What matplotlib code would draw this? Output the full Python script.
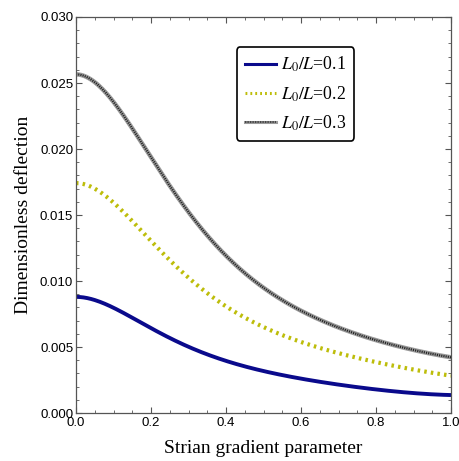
import numpy as np
import matplotlib.pyplot as plt
from matplotlib.ticker import MultipleLocator
from matplotlib.lines import Line2D

plt.rcParams['mathtext.fontset'] = 'stix'

# valores
x_azul = [0.0, 0.073, 0.118, 0.198, 0.251, 0.34, 0.43, 0.519, 0.599, 0.706, 0.813, 1.0]
y_azul = [0.00869, 0.00831, 0.0078, 0.00654, 0.00566, 0.00452, 0.00364, 0.00308,
          0.00263, 0.00212, 0.00174, 0.00136]

x_amar = [0.0, 0.073, 0.118, 0.189, 0.251, 0.34, 0.43, 0.514, 0.599, 0.706, 0.813, 1.0]
y_amar = [0.01727, 0.01664, 0.01563, 0.01323, 0.0116, 0.00932, 0.00755, 0.00629,
          0.0054, 0.00452, 0.00376, 0.00283]

x_gris = [0.0, 0.055, 0.109, 0.162, 0.216, 0.278, 0.349, 0.43, 0.514, 0.599, 0.706, 0.813, 1.0]
y_gris = [0.0254, 0.02497, 0.02346, 0.02093, 0.01892, 0.01614, 0.01317, 0.01121,
          0.00919, 0.0078, 0.00641, 0.0054, 0.00422]

etiquetas = [r'$L_0/L$=0.1', r'$L_0/L$=0.2', r'$L_0/L$=0.3']


def suavizar(xs, ys, n=300):
    # ajuste suave en log(y), pendiente nula en x=0
    x = np.array(xs, float)
    y = np.log(np.array(ys, float))
    base = lambda v: np.column_stack([np.ones_like(v), v**2, v**3, v**4, v**5])
    c, *_ = np.linalg.lstsq(base(x), y, rcond=None)
    xx = np.linspace(0, 1, n)
    return xx, np.exp(base(xx) @ c)


fig = plt.figure(figsize=(4.59, 4.61), dpi=100)
ax = fig.add_axes([76/459, 48/461, 375/459, 396/461])

xa, ya = suavizar(x_azul, y_azul)
xm, ym = suavizar(x_amar, y_amar)
xg, yg = suavizar(x_gris, y_gris)

ax.plot(xa, ya, color='#0a0a8c', lw=2.8, solid_capstyle='butt')
ax.plot(xm, ym, color='#bdbd0a', lw=3, linestyle=(0, (0.6, 1.0)))
ax.plot(xg, yg, color='#9a9a9a', lw=3.2)
ax.plot(xg, yg, color='#222222', lw=1.6, linestyle=(0, (0.5, 0.5)))

ax.set_xlim(0, 1)
ax.set_ylim(0, 0.03)
ax.xaxis.set_major_locator(MultipleLocator(0.2))
ax.xaxis.set_minor_locator(MultipleLocator(0.05))
ax.yaxis.set_major_locator(MultipleLocator(0.005))
ax.yaxis.set_minor_locator(MultipleLocator(0.001))
ax.xaxis.set_major_formatter(plt.FuncFormatter(lambda v, p: f"{v:.1f}"))
ax.yaxis.set_major_formatter(plt.FuncFormatter(lambda v, p: f"{v:.3f}"))

ax.tick_params(which='both', direction='in', top=True, right=True, color='#555555',
               labelsize=9.5)
ax.tick_params(axis='y', pad=2)
ax.tick_params(axis='x', pad=3)
ax.tick_params(which='major', length=4)
ax.tick_params(which='minor', length=2.5)
for lab in ax.get_xticklabels() + ax.get_yticklabels():
    lab.set_family('Liberation Sans')
for s in ax.spines.values():
    s.set_color('#555555')
    s.set_linewidth(0.9)

ax.set_xlabel("Strian gradient parameter", family='Liberation Serif', fontsize=14, labelpad=8)
ax.set_ylabel("Dimensionless deflection", family='Liberation Serif', fontsize=14, labelpad=6)

h1 = Line2D([], [], color='#0a0a8c', lw=2.2)
h2 = Line2D([], [], color='#bdbd0a', lw=2.2, linestyle=(0, (0.6, 1.0)))
h3a = Line2D([], [], color='#9a9a9a', lw=2.2)
h3b = Line2D([], [], color='#222222', lw=1.2, linestyle=(0, (0.5, 0.5)))
leg = ax.legend([h1, h2, (h3a, h3b)], etiquetas, loc='upper left',
                bbox_to_anchor=(0.428, 0.924), borderaxespad=0, handlelength=1.75,
                borderpad=0.45, labelspacing=0.55, handletextpad=0.3,
                fancybox=True, framealpha=1, edgecolor='black',
                prop={'family': 'Liberation Serif', 'size': 12.8})
leg.get_frame().set_linewidth(1.2)

fig.savefig("out.png", dpi=100)
